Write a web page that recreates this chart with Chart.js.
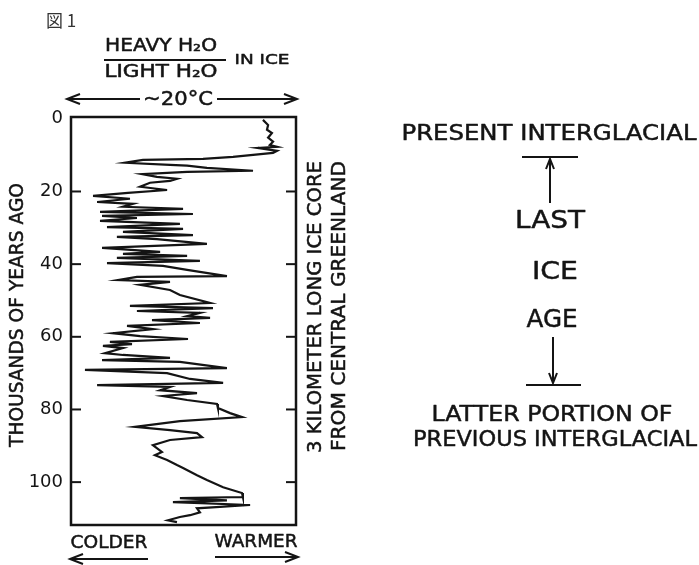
<!DOCTYPE html>
<html>
<head>
<meta charset="utf-8">
<script src="https://cdn.jsdelivr.net/npm/chart.js@4"></script>
<style>
    html, body { margin: 0; padding: 0; background: #fff; }
    .wrap { position: relative; width: 699px; height: 565px; }
    canvas { display: block; }
    .fig {
        position: absolute; left: 46px; top: 8px;
        font: 17px "Noto Sans CJK JP", "Noto Sans CJK SC", sans-serif;
        color: #333; line-height: 24px;
    }
</style>
</head>
<body>
<div class="wrap">
<canvas id="myChart" width="699" height="565"></canvas>
<div class="fig">図 1</div>
</div>
<script>
// thousands of years ago (depth in the core)
const ageKyr = [
    0.3, 1.7, 3.0, 3.9, 5.2, 6.3, 7.2, 7.7, 8.0, 8.8, 9.4, 10.5, 11.0, 11.3, 12.1, 12.7,
    12.9, 13.5, 14.3, 14.6, 15.2, 16.0, 16.5, 17.1, 17.6, 18.7, 19.6, 20.4, 21.2, 22.0, 22.9, 23.4,
    24.2, 24.8, 25.6, 26.2, 26.7, 27.3, 28.1, 28.9, 29.8, 30.3, 31.1, 32.0, 32.5, 33.1, 34.4, 35.5,
    36.6, 37.2, 37.7, 38.3, 39.1, 39.7, 40.5, 41.6, 43.3, 43.5, 44.4, 44.9, 45.7, 47.1, 48.5, 50.7,
    51.5, 52.1, 52.9, 53.4, 54.3, 54.8, 55.4, 56.2, 57.0, 57.9, 59.0, 59.8, 60.6, 61.4, 62.0, 62.5,
    63.1, 64.5, 65.0, 65.8, 66.4, 66.9, 68.6, 69.1, 70.0, 71.6, 72.7, 73.3, 73.8, 74.7, 75.5, 76.3,
    77.4, 78.5, 79.6, 81.0, 82.1, 83.2, 84.8, 85.7, 86.5, 87.6, 88.4, 89.8, 91.7, 92.6, 93.9, 95.3,
    96.1, 98.1, 99.4, 101.4, 103.0, 104.1, 104.4, 105.0, 105.5, 106.3, 107.2, 108.3, 109.1, 109.6, 110.5, 111.0
];
// heavy/light water ratio, relative units (0 = colder edge, 100 = warmer edge)
const heavyLight = [
    85.3, 87.6, 87.1, 89.3, 87.6, 89.8, 88.4, 91.6, 83.1, 91.6, 89.8, 72.0, 58.7, 32.0, 24.0, 44.0,
    51.6, 60.4, 80.9, 51.6, 31.6, 38.2, 47.1, 44.0, 35.1, 30.7, 42.7, 25.3, 9.8, 26.2, 11.6, 27.6,
    23.1, 49.8, 12.9, 54.2, 13.8, 29.3, 12.9, 48.4, 16.0, 49.8, 23.1, 54.2, 20.4, 38.2, 60.4, 13.8,
    39.6, 23.1, 51.6, 20.4, 57.3, 16.0, 40.9, 51.6, 69.3, 29.3, 20.9, 44.0, 30.7, 44.0, 48.4, 61.8,
    26.2, 63.1, 29.3, 57.3, 51.6, 61.8, 36.0, 57.3, 24.9, 36.4, 18.7, 30.7, 52.0, 17.3, 27.1, 14.2,
    23.1, 15.1, 23.1, 44.0, 13.8, 48.4, 69.3, 6.2, 42.7, 52.9, 67.6, 11.6, 44.0, 39.6, 56.0, 40.9,
    51.6, 64.9, 65.3, 70.7, 76.0, 48.4, 28.4, 44.0, 56.0, 58.2, 44.0, 36.4, 40.4, 37.3, 42.7, 47.1,
    49.8, 56.0, 60.4, 67.6, 76.0, 76.4, 48.4, 69.3, 45.3, 79.6, 56.0, 57.3, 52.9, 48.4, 43.1, 47.1
];
const yTicks = [0, 20, 40, 60, 80, 100];

const ink = "#141414";
const face = "'DejaVu Sans', sans-serif";

// text centred on (cx, cy), stretched to a given width, a bit heavier than the plain face
const txt = (ctx, s, cx, cy, size, w, rot) => {
    ctx.save();
    ctx.font = size + "px " + face;
    const m = ctx.measureText(s).width;
    ctx.translate(cx, cy);
    if (rot) ctx.rotate(rot);
    ctx.scale(w / m, 1);
    ctx.textAlign = "center";
    ctx.textBaseline = "middle";
    ctx.fillStyle = ink;
    ctx.strokeStyle = ink;
    ctx.lineWidth = 0.5;
    ctx.lineJoin = "round";
    ctx.fillText(s, 0, 0);
    ctx.strokeText(s, 0, 0);
    ctx.restore();
};

const line = (ctx, x1, y1, x2, y2, lw) => {
    ctx.beginPath();
    ctx.lineWidth = lw;
    ctx.moveTo(x1, y1);
    ctx.lineTo(x2, y2);
    ctx.stroke();
};

// open arrow from (x1,y1) to tip (x2,y2)
const arrow = (ctx, x1, y1, x2, y2, head, half, lw) => {
    line(ctx, x1, y1, x2, y2, lw);
    const a = Math.atan2(y2 - y1, x2 - x1);
    const bx = x2 - Math.cos(a) * head, by = y2 - Math.sin(a) * head;
    const nx = -Math.sin(a) * half, ny = Math.cos(a) * half;
    ctx.beginPath();
    ctx.lineWidth = lw;
    ctx.moveTo(bx + nx, by + ny);
    ctx.lineTo(x2, y2);
    ctx.lineTo(bx - nx, by - ny);
    ctx.stroke();
};

const decor = {
    id: "decor",
    beforeDraw: (chart) => {
        const ctx = chart.ctx;
        ctx.save();
        ctx.fillStyle = "#fff";
        ctx.fillRect(0, 0, chart.width, chart.height);
        ctx.restore();
    },
    afterDraw: (chart) => {
        const ctx = chart.ctx;
        const a = chart.chartArea;
        const y = chart.scales.y;
        ctx.save();
        ctx.strokeStyle = ink;
        ctx.lineCap = "butt";

        // frame and inward ticks
        ctx.lineWidth = 2.5;
        ctx.strokeRect(a.left, a.top, a.right - a.left, a.bottom - a.top);
        y.ticks.forEach((t) => {
            if (t.value === 0) return;
            const py = y.getPixelForValue(t.value);
            line(ctx, a.left, py, a.left + 10, py, 2);
            line(ctx, a.right, py, a.right - 10, py, 2);
        });

        // header
        txt(ctx, "HEAVY H₂O", 161, 47, 17, 112);
        line(ctx, 104, 60, 226, 60, 2);
        txt(ctx, "LIGHT H₂O", 161, 73, 17, 113);
        txt(ctx, "IN ICE", 262, 60, 14, 55);
        txt(ctx, "~20°C", 178, 100, 20, 70);
        arrow(ctx, 140, 99, 67, 99, 13, 5, 2);
        arrow(ctx, 217, 99, 297, 99, 13, 5, 2);

        // side titles
        txt(ctx, "THOUSANDS OF YEARS AGO", 18, 315, 20, 264, -Math.PI / 2);
        txt(ctx, "3 KILOMETER LONG ICE CORE", 316, 307, 20, 292, -Math.PI / 2);
        txt(ctx, "FROM CENTRAL GREENLAND", 340, 306, 20, 290, -Math.PI / 2);

        // colder / warmer
        txt(ctx, "COLDER", 109, 543, 18, 77);
        arrow(ctx, 148, 559, 70, 559, 13, 5, 2);
        txt(ctx, "WARMER", 256, 542, 18, 83);
        arrow(ctx, 215, 557, 298, 557, 13, 5, 2);

        // right-hand annotation
        txt(ctx, "PRESENT INTERGLACIAL", 549, 135, 21, 295);
        line(ctx, 522, 157, 578, 157, 2);
        arrow(ctx, 550, 203, 550, 159, 10, 4, 2);
        txt(ctx, "LAST", 550, 221, 25, 70);
        txt(ctx, "ICE", 555, 272, 25, 46);
        txt(ctx, "AGE", 552, 320, 25, 51);
        arrow(ctx, 553, 337, 553, 383, 10, 4, 2);
        line(ctx, 526, 385, 581, 385, 2);
        txt(ctx, "LATTER PORTION OF", 552, 415, 22, 241);
        txt(ctx, "PREVIOUS INTERGLACIAL", 555, 440, 22, 284);
        ctx.restore();
    },
};

const points = ageKyr.map((age, i) => ({ x: heavyLight[i], y: age }));

new Chart(document.getElementById("myChart"), {
    type: "scatter",
    data: {
        datasets: [
            {
                label: "Heavy/light H2O in ice",
                data: points,
                showLine: true,
                borderColor: ink,
                borderWidth: 2.2,
                pointRadius: 0,
                tension: 0,
            },
        ],
    },
    options: {
        responsive: false,
        animation: false,
        layout: { padding: { left: 0, top: 117, right: 699 - 296, bottom: 565 - 525 } },
        plugins: { legend: { display: false }, tooltip: { enabled: false } },
        scales: {
            x: { type: "linear", min: 0, max: 100, display: false },
            y: {
                type: "linear",
                reverse: true,
                min: -0.5,
                max: 111.8,
                grid: { display: false, drawTicks: false },
                border: { display: false },
                ticks: { color: ink, padding: 8, font: { family: face, size: 18 } },
                afterBuildTicks: (scale) => {
                    scale.ticks = yTicks.map((v) => ({ value: v }));
                },
                afterFit: (scale) => {
                    scale.width = 71;
                },
            },
        },
    },
    plugins: [decor],
});
</script>
</body>
</html>
